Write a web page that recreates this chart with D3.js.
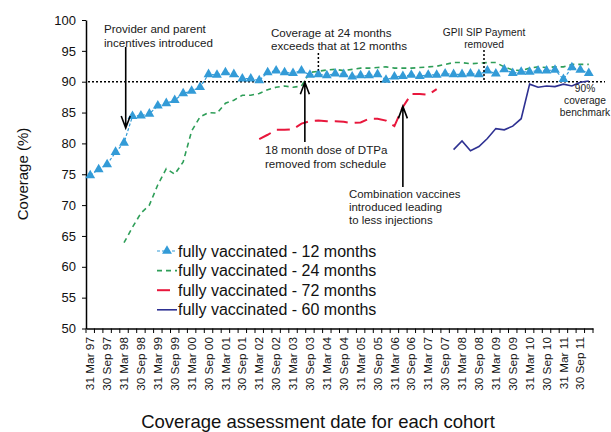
<!DOCTYPE html>
<html>
<head>
<meta charset="utf-8">
<script src="https://cdn.jsdelivr.net/npm/d3@7"></script>
<style>
body{margin:0;background:#fff;}
svg{display:block;font-family:"Liberation Sans",Arial,sans-serif;}
</style>
</head>
<body>
<div id="chart"></div>
<script>
let width = 611;
let height = 432;

// quarters, 31 Mar 97 .. 31 Dec 11
const years = ["97","98","99","00","01","02","03","04","05","06","07","08","09","10","11"];
const months = ["31 Mar","30 Jun","30 Sep","31 Dec"];
const quarters = years.flatMap(y => months.map(m => m + " " + y));
const shownMonths = ["Mar","Sep"];

const yTicks = [50,55,60,65,70,75,80,85,90,95,100];

// fully vaccinated - 12 months (from 31 Mar 97)
const cov12 = [74.8,75.8,76.6,78.6,80.1,84.4,84.5,84.8,86.1,86.5,
               87.0,88.1,88.5,89.1,91.2,91.1,91.5,91.2,90.5,90.5,
               90.2,91.5,91.8,91.5,91.4,91.8,91.1,91.2,91.0,91.3,
               91.2,90.8,91.0,91.0,91.2,90.3,90.8,90.9,91.1,90.9,
               91.1,91.1,91.3,91.2,91.2,91.3,91.2,91.8,91.3,92.0,
               91.4,91.6,91.6,91.8,91.8,91.9,90.4,92.3,91.9,91.4];
// fully vaccinated - 24 months
const cov24Start = "31 Mar 98";
const cov24 = [63.9,66.4,68.7,70.0,73.3,75.9,75.0,77.0,82.0,84.3,
               85.0,84.9,86.5,87.0,87.8,87.8,88.1,88.7,89.1,89.3,
               89.1,89.3,91.5,91.7,91.9,92.0,91.8,92.0,92.2,92.2,
               92.3,92.4,92.2,92.2,92.2,92.3,92.4,92.5,92.8,93.1,
               93.1,92.9,93.0,93.1,93.1,92.4,91.9,91.8,92.2,92.4,
               92.3,92.4,92.4,92.8,92.8,92.8];
// fully vaccinated - 72 months
const cov72Start = "31 Mar 02";
const cov72 = [80.7,81.4,82.2,82.2,82.3,83.2,83.6,83.7,83.6,83.6,
               83.5,83.3,83.4,84.0,84.0,83.7,82.8,85.9,88.0,88.0,
               87.9,88.8];
// fully vaccinated - 60 months
const cov60Start = "31 Dec 07";
const cov60 = [79.0,80.4,78.8,79.5,80.8,82.4,82.2,82.8,84.0,89.6,
               89.1,89.3,89.2,89.6,89.3,89.9,90.1];

const benchmark = 90;

function toPoints(start, vals){
    let s = quarters.indexOf(start);
    return vals.map((v,i) => ({q: quarters[s+i], v: v}));
}

let svg = d3.select("#chart").append("svg")
            .attr("width",width)
            .attr("height",height);

let x = d3.scaleBand().domain(quarters).range([86,593]).padding(0);
let y = d3.scaleLinear().domain([50,100]).range([328.5,20]);
let xc = q => x(q) + x.bandwidth()/2;
// fractional quarter position for annotations
let xAt = k => x.range()[0] + x.step()*(k+0.5);

// y axis
let yAxis = svg.append("g")
    .attr("transform","translate(86,0)")
    .call(d3.axisLeft(y).tickValues(yTicks).tickSize(4).tickSizeOuter(0).tickPadding(6));
yAxis.selectAll("text").style("font-size","13px").style("fill","#111")
     .style("font-family","Liberation Sans, Arial, sans-serif");
yAxis.select(".domain").attr("stroke-width",1.5);

// x axis
let xAxis = svg.append("g")
    .attr("transform","translate(0,328.5)")
    .call(d3.axisBottom(x).tickSize(0).tickSizeOuter(0)
        .tickFormat(d => shownMonths.includes(d.split(" ")[1]) ? d : ""));
xAxis.select(".domain").attr("stroke-width",1.5);
xAxis.selectAll("text")
     .attr("transform","rotate(-90)")
     .attr("text-anchor","end")
     .attr("x",-8.5)
     .attr("y",0)
     .attr("dy","0.35em")
     .style("font-size","11.8px").style("fill","#111")
     .style("font-family","Liberation Sans, Arial, sans-serif");
xAxis.selectAll(".bound").data(d3.range(quarters.length+1)).enter()
     .append("line").attr("class","bound")
     .attr("x1",i => x.range()[0] + i*x.step())
     .attr("x2",i => x.range()[0] + i*x.step())
     .attr("y1",0).attr("y2",4.5)
     .attr("stroke","#000").attr("stroke-width",1);

// titles
svg.append("text")
   .attr("transform","translate(28,174) rotate(-90)")
   .attr("text-anchor","middle")
   .style("font-size","15px").style("fill","#111")
   .text("Coverage (%)");
svg.append("text")
   .attr("x",318).attr("y",428)
   .attr("text-anchor","middle")
   .style("font-size","18.5px").style("fill","#111")
   .text("Coverage assessment date for each cohort");

// 90% benchmark
svg.append("line")
   .attr("x1",88).attr("x2",605)
   .attr("y1",y(benchmark)).attr("y2",y(benchmark))
   .attr("stroke","#000").attr("stroke-width",1.6)
   .attr("stroke-dasharray","2,2");

let line = d3.line().x(d => xc(d.q)).y(d => y(d.v));

// 24 months
svg.append("path")
   .attr("d",line(toPoints(cov24Start,cov24)))
   .attr("fill","none").attr("stroke","#2E9E58")
   .attr("stroke-width",1.6).attr("stroke-dasharray","5,4");

// 72 months
svg.append("path")
   .attr("d",line(toPoints(cov72Start,cov72)))
   .attr("fill","none").attr("stroke","#E8173C")
   .attr("stroke-width",2).attr("stroke-dasharray","13,7");

// 60 months
svg.append("path")
   .attr("d",line(toPoints(cov60Start,cov60)))
   .attr("fill","none").attr("stroke","#2E3192")
   .attr("stroke-width",1.6);

// 12 months
let p12 = toPoints(quarters[0],cov12);
svg.append("path")
   .attr("d",line(p12))
   .attr("fill","none").attr("stroke","#339BD7")
   .attr("stroke-width",1.2).attr("stroke-dasharray","3,2");
let tri = d3.symbol().type(d3.symbolTriangle).size(42);
svg.selectAll(".m12").data(p12).enter()
   .append("path").attr("class","m12")
   .attr("d",tri)
   .attr("transform",d => `translate(${xc(d.q)},${y(d.v)})`)
   .attr("fill","#339BD7");

// legend
let legendItems = [
    {label:"fully vaccinated - 12 months", color:"#339BD7", dash:"3,2", w:1.2, x2:20, marker:true},
    {label:"fully vaccinated - 24 months", color:"#2E9E58", dash:"5,4", w:1.6, x2:20},
    {label:"fully vaccinated - 72 months", color:"#E8173C", dash:null, w:2, x2:13},
    {label:"fully vaccinated - 60 months", color:"#2E3192", dash:null, w:1.6, x2:20}
];
let legend = svg.append("g").attr("transform","translate(157,251)");
let li = legend.selectAll("g").data(legendItems).enter()
    .append("g").attr("transform",(d,i) => `translate(0,${i*19.6})`);
li.append("line").attr("x1",0).attr("x2",d => d.x2).attr("y1",0).attr("y2",0)
  .attr("stroke",d => d.color).attr("stroke-width",d => d.w)
  .attr("stroke-dasharray",d => d.dash);
li.filter(d => d.marker).append("path").attr("d",tri)
  .attr("transform","translate(10,0)").attr("fill",d => d.color);
li.append("text").attr("x",21).attr("y",5.5)
  .style("font-size","16px").style("fill","#111")
  .text(d => d.label);

// annotations
function arrow(ax, yTail, yTip){
    let dir = yTip > yTail ? -1 : 1;
    svg.append("path")
       .attr("d","M"+ax+","+yTail+"V"+yTip+
                 "M"+(ax-4.5)+","+(yTip+dir*12)+"L"+ax+","+yTip+"L"+(ax+4.5)+","+(yTip+dir*12))
       .attr("fill","none").attr("stroke","#000").attr("stroke-width",1.6);
}
function note(lines, tx, ty, size, anchor){
    let t = svg.append("text").attr("x",tx).attr("y",ty)
               .attr("text-anchor",anchor || "start")
               .style("font-size",size+"px").style("fill","#1a1a1a");
    lines.forEach((l,i) => t.append("tspan").attr("x",tx).attr("dy",i ? size*1.18 : 0).text(l));
}
function dotted(ax, y1, y2){
    svg.append("line").attr("x1",ax).attr("x2",ax).attr("y1",y1).attr("y2",y2)
       .attr("stroke","#000").attr("stroke-width",1.5).attr("stroke-dasharray","2,2");
}

note(["Provider and parent","incentives introduced"],104,33,11.6);
arrow(xAt(4.2),47,y(82.5));

note(["Coverage at 24 months","exceeds that at 12 months"],271,36.5,11.6);
dotted(xAt(27),53,y(91.8));

note(["18 month dose of DTPa","removed from schedule"],265,154,11.6);
arrow(xAt(25.4),142,y(89.9));

note(["Combination vaccines","introduced leading","to less injections"],349,197.5,11.4);
arrow(xAt(37),187,y(86));

note(["GPII SIP Payment","removed"],484,36,10.2,"middle");
dotted(xAt(46.6),50,y(benchmark));

note(["90%","coverage","benchmark"],585,92,10.2,"middle");
</script>
</body>
</html>
